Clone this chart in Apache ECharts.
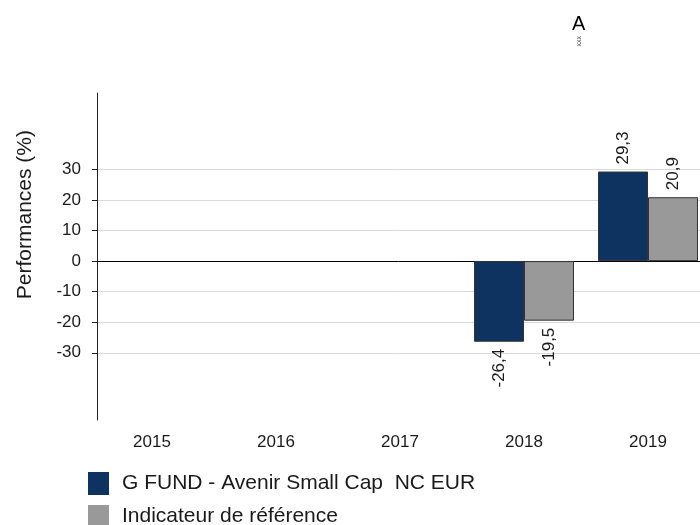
<!DOCTYPE html>
<html>
<head>
<meta charset="utf-8">
<script src="https://cdn.jsdelivr.net/npm/echarts@6/dist/echarts.min.js"></script>
<style>
  html, body { margin: 0; padding: 0; background: #fff; }
  #chart { width: 700px; height: 525px; }
</style>
</head>
<body>
<div id="chart"></div>
<script>
// Données
const annees = ["2015", "2016", "2017", "2018", "2019"];
const fonds = [null, null, null, -26.4, 29.3];
const indicateur = [null, null, null, -19.5, 20.9];
const ticksY = [-30, -20, -10, 0, 10, 20, 30];
const nomFonds = "G FUND - Avenir Small Cap  NC EUR";
const nomIndicateur = "Indicateur de référence";

const police = "Liberation Sans, Arial, sans-serif";

// Étiquette tournée, au-dessus ou en dessous selon le signe
function avecEtiquette(valeurs) {
    return valeurs.map(v => {
        if (v === null) return "-";
        return {
            value: v,
            label: {
                position: v >= 0 ? "top" : "bottom",
                align: v >= 0 ? "left" : "right"
            }
        };
    });
}

const etiquette = {
    show: true,
    rotate: 90,
    verticalAlign: "middle",
    distance: 7,
    color: "#1a1a1a",
    fontFamily: police,
    fontSize: 17,
    formatter: p => String(p.value).replace(".", ",")
};

const chart = echarts.init(document.getElementById("chart"));
const option = {
    animation: false,
    backgroundColor: "#fff",
    textStyle: { fontFamily: police },
    grid: [
        { left: 97, right: 0, top: 93, bottom: 105, outerBoundsMode: "none" },
        { left: 90, width: 620, top: 93, bottom: 105, outerBoundsMode: "none" }
    ],
    xAxis: [
        {
            type: "category", gridIndex: 0, data: annees,
            axisLine: { show: true, onZero: true, lineStyle: { color: "#000", width: 1 } },
            axisTick: { show: false }, axisLabel: { show: false }, splitLine: { show: false }
        },
        {
            type: "category", gridIndex: 1, data: annees,
            axisLine: { show: false, onZero: false }, axisTick: { show: false },
            axisLabel: { color: "#1a1a1a", fontSize: 17, margin: 14, fontFamily: police }
        }
    ],
    yAxis: [
        {
            type: "value", gridIndex: 0, min: -52, max: 55,
            axisLine: { show: true, lineStyle: { color: "#222" } },
            axisTick: { show: true, length: 5, customValues: ticksY, lineStyle: { color: "#222" } },
            axisLabel: { customValues: ticksY, color: "#1a1a1a", fontSize: 17, margin: 16, fontFamily: police },
            splitLine: { show: true, lineStyle: { color: "#d9d9d9", width: 1 } }
        },
        {
            type: "value", gridIndex: 1, min: -52, max: 55, show: false,
            splitLine: { show: false }
        }
    ],
    legend: {
        orient: "vertical", left: 88, top: 472, height: 90, padding: 0,
        itemWidth: 21, itemHeight: 23, itemGap: 10,
        icon: "rect",
        itemStyle: { borderWidth: 0 },
        textStyle: { fontSize: 21, color: "#1a1a1a", fontFamily: police, padding: [0, 0, 0, 8] },
        data: [nomFonds, nomIndicateur]
    },
    graphic: [
        {
            type: "text", left: 15, top: 130, rotation: Math.PI / 2,
            style: { text: "Performances (%)", fontSize: 21, fill: "#1a1a1a", fontFamily: police }
        },
        {
            type: "text", left: 572, top: 14,
            style: { text: "A", fontSize: 20, fill: "#000", fontFamily: police }
        },
        {
            type: "text", left: 576, top: 36,
            style: { text: "xxx", fontSize: 7, fill: "#333", fontFamily: police },
            rotation: Math.PI / 2
        }
    ],
    series: [
        {
            name: nomFonds, type: "bar", xAxisIndex: 1, yAxisIndex: 1,
            data: avecEtiquette(fonds),
            barWidth: 50, barGap: "0%",
            itemStyle: { color: "#0f3360", borderColor: "#333", borderWidth: 1 },
            label: etiquette
        },
        {
            name: nomIndicateur, type: "bar", xAxisIndex: 1, yAxisIndex: 1,
            data: avecEtiquette(indicateur),
            barWidth: 50, barGap: "0%",
            itemStyle: { color: "#999999", borderColor: "#333", borderWidth: 1 },
            label: etiquette
        }
    ]
};
chart.setOption(option);
</script>
</body>
</html>
